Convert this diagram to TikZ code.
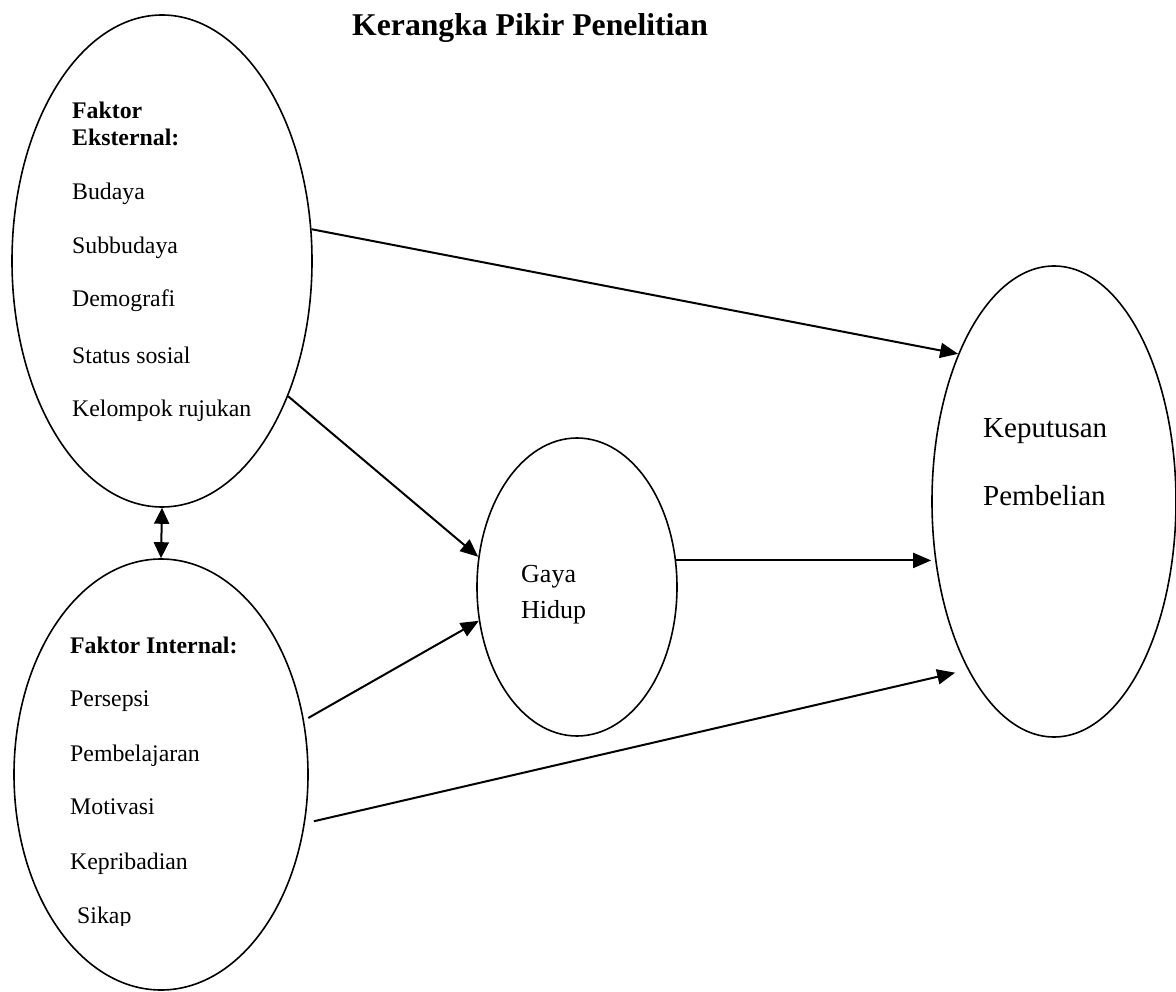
\documentclass[tikz,border=0pt]{standalone}
\usepackage{fontspec}
\setmainfont{Liberation Serif}
\usetikzlibrary{shapes.geometric,arrows.meta,calc}
\begin{document}
\begin{tikzpicture}[x=1pt,y=-1pt,
  oval/.style={draw,ellipse,line width=1.6pt,inner sep=0pt},
  arr/.style={line width=2pt,-{Triangle[length=18pt,width=15pt]}},
  darr/.style={line width=2pt,{Triangle[length=16pt,width=15pt]}-{Triangle[length=16pt,width=15pt]}},
  body/.style={anchor=base west,inner sep=0pt,font=\fontsize{23.8}{28}\selectfont},
  bodyb/.style={body,font=\fontsize{23.8}{28}\selectfont\bfseries},
  big/.style={anchor=base west,inner sep=0pt,font=\fontsize{29}{34}\selectfont},
  mid/.style={anchor=base west,inner sep=0pt,font=\fontsize{26}{30}\selectfont}]
\useasboundingbox (0,0) rectangle (1176,992);
% title
\node[anchor=base west,inner sep=0pt,font=\fontsize{31.7}{36}\selectfont\bfseries] (title) at (352,36) {Kerangka Pikir Penelitian};
% ellipses
\node[oval,minimum width=300pt,minimum height=492pt] (ext) at (162,261) {};
\node[oval,minimum width=294pt,minimum height=431pt] (int) at (161,774.5) {};
\node[oval,minimum width=200pt,minimum height=298pt] (gaya) at (577,587) {};
\node[oval,minimum width=244pt,minimum height=471pt] (kep) at (1054,501.5) {};
% external texts
\node[bodyb] (t1) at (72,119) {Faktor};
\node[bodyb] (t2) at (72,146) {Eksternal:};
\node[body] (t3) at (72,200) {Budaya};
\node[body] (t4) at (72,254) {Subbudaya};
\node[body] (t5) at (72,307) {Demografi};
\node[body] (t6) at (72,363) {Status sosial};
\node[body] (t7) at (72,417) {Kelompok rujukan};
% internal texts
\node[bodyb] (i1) at (70,653) {Faktor Internal:};
\node[body] (i2) at (70,706) {Persepsi};
\node[body] (i3) at (70,761) {Pembelajaran};
\node[body] (i4) at (70,814) {Motivasi};
\node[body] (i5) at (70,869) {Kepribadian};
\begin{scope}
\clip (60,880) rectangle (200,925);
\node[body] (i6) at (77,923) {Sikap};
\end{scope}
% gaya texts
\node[mid] (g1) at (521,582) {Gaya};
\node[mid] (g2) at (521,618) {Hidup};
% keputusan texts
\node[big] (k1) at (983,437) {Keputusan};
\node[big] (k2) at (983,505) {Pembelian};
% connectors
\draw[darr] (ext.south) -- (int.north);
\draw[arr] (ext.12.5) -- (kep.123.6);
\draw[arr] (ext.-47.6) -- (gaya.163.5);
\draw[arr] ($(int.center)!1.03!(int.21.2)$) -- (gaya.199.6);
\draw[arr] (gaya.15.6) -- (gaya.15.6 -| kep.west);
\draw[arr] ($(int.center)!1.057!(int.-17.4)$) -- ($(kep.center)!1.083!(kep.240.3)$);
\end{tikzpicture}
\end{document}
